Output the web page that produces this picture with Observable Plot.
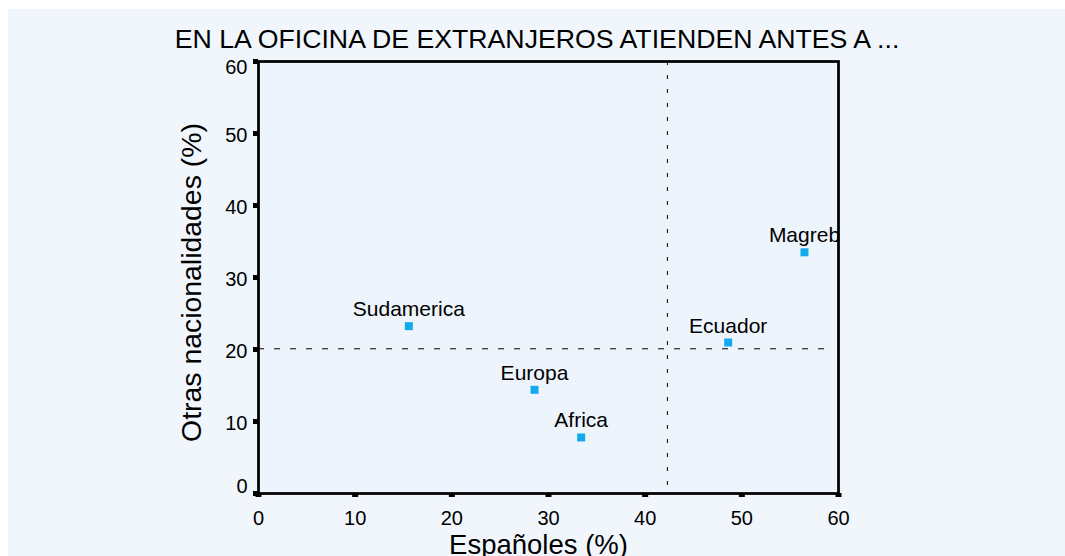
<!DOCTYPE html>
<html><head><meta charset="utf-8">
<script src="https://cdn.jsdelivr.net/npm/d3@7"></script>
<script src="https://cdn.jsdelivr.net/npm/@observablehq/plot@0.6"></script>
<style>
html,body{margin:0;padding:0;background:#fff;}
#wrap{position:absolute;left:8px;top:9px;width:1057px;height:547px;background:#f1f6fd;overflow:hidden;font-family:"Liberation Sans",Arial,Helvetica,sans-serif;}
#title{position:absolute;left:0;top:17px;width:1058px;text-align:center;font-size:26.7px;line-height:27px;color:#000;white-space:nowrap;}
#chart{position:absolute;left:0;top:0;}
</style></head><body>
<div id="wrap"><div id="chart"></div><div id="title"></div></div>
<script>
const titleText = "EN LA OFICINA DE EXTRANJEROS ATIENDEN ANTES A ...";
const xLabel = "Españoles (%)";
const yLabel = "Otras nacionalidades (%)";
const regions = ["Sudamerica", "Europa", "Africa", "Ecuador", "Magreb"];
const espanoles = [15.55, 28.55, 33.38, 48.59, 56.48];
const otras = [23.24, 14.4, 7.78, 20.97, 33.5];
const xTicks = [0, 10, 20, 30, 40, 50, 60];
const yTicks = [0, 10, 20, 30, 40, 50, 60];
const yTicksMid = [10, 20, 30, 40, 50];
const refX = 42.3;
const refY = 20.1;

const data = regions.map((r, i) => ({region: r, x: espanoles[i], y: otras[i]}));

document.getElementById("title").textContent = titleText;

const font = '"Liberation Sans", Arial, Helvetica, sans-serif';
const chart = Plot.plot({
  width: 1057,
  height: 547,
  marginLeft: 250,
  marginRight: 227,
  marginTop: 52,
  marginBottom: 63,
  x: {domain: [0, 60]},
  y: {domain: [0, 60]},
  style: {background: "transparent", fontFamily: font, color: "#000", overflow: "visible"},
  marks: [
    Plot.frame({fill: "#edf4fc", stroke: null}),
    Plot.ruleX([refX], {stroke: "#000", strokeWidth: 1, strokeDasharray: "4,10"}),
    Plot.ruleY([refY], {x1: 0, x2: 59.4, stroke: "#000", strokeWidth: 1, strokeDasharray: "6,10"}),
    Plot.frame({stroke: "#000", strokeWidth: 2.75}),
    Plot.axisX({ticks: xTicks, tickSize: 4, strokeWidth: 6, tickPadding: 13, fontSize: 20, label: null}),
    Plot.axisY({ticks: yTicks, tickSize: 5, strokeWidth: 5, tickFormat: () => "", label: null}),
    Plot.text(yTicksMid, {y: d => d, text: d => `${d}`, frameAnchor: "left", textAnchor: "end", dx: -11, dy: 2, fontSize: 20}),
    Plot.text([yTicks[yTicks.length - 1]], {y: d => d, text: d => `${d}`, frameAnchor: "left", textAnchor: "end", dx: -11, dy: 6, fontSize: 20}),
    Plot.text([yTicks[0]], {y: d => d, text: d => `${d}`, frameAnchor: "left", textAnchor: "end", dx: -11, dy: -7, fontSize: 20}),
    Plot.dot(data, {x: "x", y: "y", symbol: "square", r: 4.5, fill: "#12a9ed", stroke: null}),
    Plot.text(data, {x: "x", y: "y", text: "region", lineAnchor: "bottom", dy: -10, fontSize: 21, fill: "#000"}),
    Plot.text([xLabel], {text: d => d, frameAnchor: "bottom", textAnchor: "middle", lineAnchor: "bottom", dx: -10, dy: 60, fontSize: 27.5}),
    Plot.text([yLabel], {text: d => d, frameAnchor: "left", textAnchor: "middle", lineAnchor: "middle", rotate: -90, dx: -67, dy: 5, fontSize: 28.4})
  ]
});
document.getElementById("chart").appendChild(chart);
</script>
</body></html>
